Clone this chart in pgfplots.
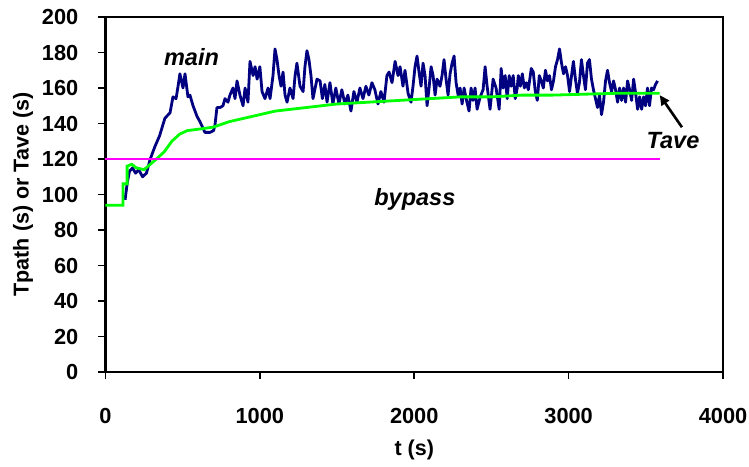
\documentclass[border=0pt]{standalone}
\usepackage{pgfplots}
\pgfplotsset{compat=1.18}
\usepackage{fontspec}
\setmainfont{Liberation Sans}
\usetikzlibrary{arrows.meta}

\definecolor{mainblue}{RGB}{0,0,128}
\definecolor{avegreen}{RGB}{0,255,0}
\definecolor{bypassmag}{RGB}{255,0,255}

\begin{document}
\begin{tikzpicture}
\begin{axis}[
  scale only axis,
  width=617.5pt, height=355pt,
  xmin=0, xmax=4000, ymin=0, ymax=200,
  xtick={0,1000,...,4000},
  ytick={0,20,...,200},
  axis line style={line width=2.5pt},
  every tick/.style={black, line width=1.6pt},
  tick align=outside,
  major tick length=7pt,
  xtick pos=bottom, ytick pos=left,
  /pgf/number format/assume math mode=true,
  /pgf/number format/1000 sep={},
  tick label style={font=\fontsize{21.8}{26}\selectfont\bfseries},
  xticklabel style={anchor=center, inner sep=0pt, yshift=-37pt},
  yticklabel style={anchor=east, inner sep=0pt, xshift=-20pt},
  label style={font=\fontsize{21.5}{26}\selectfont\bfseries},
  xlabel={t (s)},
  xlabel style={at={([yshift=-78pt]axis description cs:0.5,0)}, anchor=center, inner sep=0pt},
  ylabel={Tpath (s) or Tave (s)},
  ylabel style={at={([xshift=-82.5pt]axis description cs:0,0.5)}, anchor=center, inner sep=0pt},
  clip=false,
]
% per-packet path delay on the main route
\addplot[mainblue, line width=2.8pt, line join=round] coordinates {
(127,97) (140,106) (155,113) (175,115) (195,112) (215,114) (240,110) (265,112)
(290,120) (320,127) (350,133) (385,143) (418,146) (437,155) (457,154) (470,161)
(482,168) (502,160) (515,168) (534,155) (547,156) (567,150) (593,144) (612,141)
(644,135) (677,135) (700,136) (709,139) (722,149) (742,149) (761,150) (774,154)
(793,152) (806,156) (826,160) (839,154) (852,164) (871,156) (891,150) (904,160)
(923,152) (936,175) (956,167) (969,172) (982,165) (1000,172) (1014,158) (1033,154)
(1053,160) (1066,154) (1085,167) (1098,182) (1111,176) (1124,167) (1137,161) (1150,169)
(1163,156) (1176,152) (1195,160) (1215,154) (1228,167) (1240,174) (1260,161) (1280,158)
(1292,172) (1305,181) (1318,176) (1331,167) (1344,154) (1370,165) (1390,164) (1405,154)
(1421,162) (1435,152) (1454,163) (1473,151) (1492,160) (1512,151) (1531,159) (1551,151)
(1570,156) (1590,147) (1609,158) (1629,152) (1648,160) (1668,154) (1687,161) (1706,156)
(1726,163) (1745,159) (1765,151) (1784,158) (1804,152) (1823,167) (1837,169) (1856,163)
(1876,175) (1895,167) (1908,172) (1927,161) (1940,170) (1960,157) (1979,152) (1992,161)
(2005,172) (2018,178) (2031,169) (2044,161) (2057,174) (2070,167) (2083,150) (2096,160)
(2109,172) (2122,167) (2135,156) (2148,165) (2167,161) (2180,167) (2193,176) (2206,165)
(2219,156) (2232,168) (2245,174) (2258,178) (2271,163) (2284,156) (2297,160) (2310,151)
(2323,160) (2336,154) (2355,147) (2368,160) (2381,153) (2394,160) (2407,148) (2427,155)
(2446,159) (2459,172) (2472,161) (2491,148) (2511,165) (2530,160) (2550,148) (2563,171)
(2576,160) (2589,167) (2602,154) (2615,167) (2628,161) (2641,167) (2654,154) (2667,160)
(2674,167) (2687,161) (2700,168) (2713,160) (2726,163) (2739,159) (2758,171) (2771,169)
(2784,158) (2797,153) (2810,167) (2823,164) (2836,160) (2850,170) (2863,164) (2876,167)
(2889,159) (2902,164) (2915,172) (2928,176) (2941,182) (2954,174) (2967,168) (2980,172)
(2993,167) (3006,158) (3019,167) (3031,175) (3044,165) (3057,157) (3070,163) (3083,176)
(3096,167) (3109,159) (3122,174) (3135,176) (3148,165) (3161,159) (3174,154) (3187,149)
(3200,156) (3213,145) (3226,152) (3239,164) (3252,170) (3265,163) (3278,158) (3291,164)
(3304,159) (3317,152) (3330,160) (3343,153) (3356,160) (3369,152) (3382,164) (3395,159)
(3408,153) (3421,165) (3434,157) (3447,148) (3460,155) (3473,148) (3486,155) (3498,150)
(3511,160) (3524,150) (3537,160) (3550,159) (3563,162) (3576,164)
};
% running average Tave
\addplot[avegreen, line width=2.8pt] coordinates {
(0,94) (113,94) (113,106) (140,106) (140,116) (170,117) (200,115) (250,114)
(290,117) (330,120) (380,124) (430,130) (480,134) (530,136) (620,137) (700,138)
(800,141) (900,143) (1000,145) (1100,147) (1200,148) (1300,149) (1400,150) (1500,151)
(1700,152) (1900,153) (2100,154) (2300,155) (2500,155) (2700,156) (2900,156) (3100,156.5)
(3300,157) (3590,157)
};
% bypass route delay
\addplot[bypassmag, line width=2.4pt] coordinates {(0,120) (3590,120)};

\node[font=\fontsize{23.5}{28}\selectfont\bfseries\itshape, anchor=base] at (axis cs:557,172.8) {main};
\node[font=\fontsize{23.5}{28}\selectfont\bfseries\itshape, anchor=base] at (axis cs:2004,94) {bypass};
\node[font=\fontsize{23.5}{28}\selectfont\bfseries\itshape, anchor=base] at (axis cs:3676,126) {Tave};
\draw[line width=2.6pt, -{Triangle[length=10pt,width=9pt]}] (axis cs:3734,137.9) -- (axis cs:3590,156);
\end{axis}
\path (current axis.south west) ++(-105.5pt,-94pt) rectangle ++(749pt,466pt);
\end{tikzpicture}
\end{document}
